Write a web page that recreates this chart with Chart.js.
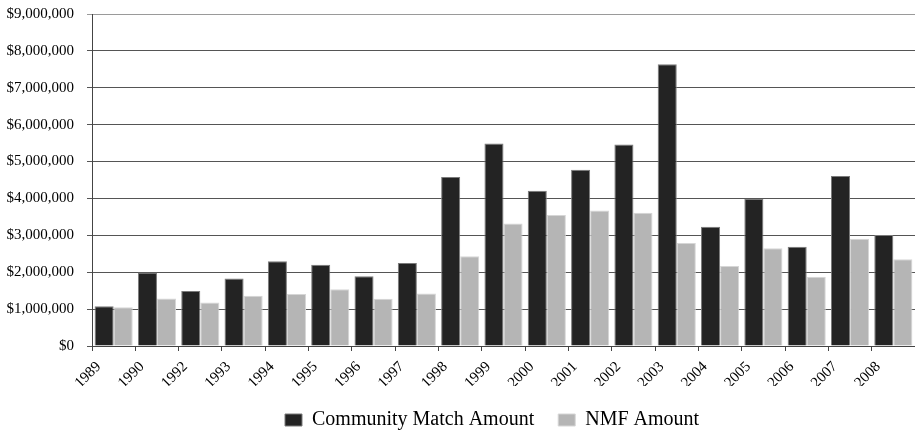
<!DOCTYPE html>
<html>
<head>
<meta charset="utf-8">
<script src="https://cdn.jsdelivr.net/npm/chart.js@4/dist/chart.umd.min.js"></script>
<style>
  html, body { margin: 0; padding: 0; background: #fff; }
  #wrap { width: 915px; height: 431px; }
</style>
</head>
<body>
<div id="wrap"><canvas id="c" width="915" height="431"></canvas></div>
<script>
const years = ['1989','1990','1992','1993','1994','1995','1996','1997','1998','1999','2000','2001','2002','2003','2004','2005','2006','2007','2008'];
const communityMatch = [1080000,1990000,1490000,1830000,2300000,2200000,1890000,2250000,4580000,5490000,4210000,4780000,5460000,7640000,3230000,3990000,2690000,4610000,3010000];
const nmfAmount = [1050000,1290000,1180000,1360000,1410000,1540000,1280000,1420000,2430000,3320000,3550000,3670000,3610000,2790000,2170000,2650000,1880000,2910000,2350000];
const seriesNames = ['Community Match Amount', 'NMF Amount'];
const yMin = 0, yMax = 9000000, yStep = 1000000;

const serif = "'Liberation Serif', 'Times New Roman', serif";

const legendShift = {
  id: 'legendShift',
  afterLayout(chart) {
    const lg = chart.legend;
    const w = lg.right - lg.left;
    lg.left = 261;
    lg.right = 261 + w;
  }
};

new Chart(document.getElementById('c'), {
  type: 'bar',
  data: {
    labels: years,
    datasets: [
      { label: seriesNames[0], data: communityMatch, backgroundColor: '#232323', borderColor: '#7a7a7a', borderWidth: 1,
        categoryPercentage: 0.88, barPercentage: 1.0 },
      { label: seriesNames[1], data: nmfAmount, backgroundColor: '#b5b5b5', borderColor: '#d6d6d6', borderWidth: 1,
        categoryPercentage: 0.88, barPercentage: 1.0 }
    ]
  },
  options: {
    responsive: false,
    devicePixelRatio: 1,
    animation: false,
    layout: { padding: { top: 14, left: 0, right: 0, bottom: -9 } },
    plugins: {
      tooltip: { enabled: false },
      legend: {
        position: 'bottom',
        align: 'start',
        labels: {
          boxWidth: 17, boxHeight: 12, padding: 24, color: '#000',
          font: { family: serif, size: 20 }
        }
      }
    },
    scales: {
      x: {
        offset: true,
        grid: { display: true, drawOnChartArea: false, drawTicks: true, tickLength: 5, color: '#444', offset: true },
        border: { display: true, color: '#444', width: 1 },
        ticks: {
          autoSkip: false, maxRotation: 45, minRotation: 45, labelOffset: -15, padding: 7,
          color: '#000', font: { family: serif, size: 15 }
        },
        afterFit(scale) { scale.height = 40; }
      },
      y: {
        min: yMin, max: yMax,
        grid: {
          tickLength: 5,
          color: (ctx) => (ctx.tick && ctx.tick.value === yMax) ? '#9a9a9a' : '#555'
        },
        border: { display: true, color: '#444', width: 1 },
        ticks: {
          stepSize: yStep, padding: 13, color: '#000',
          font: { family: serif, size: 15 },
          callback: (v) => '$' + Number(v).toLocaleString('en-US')
        },
        afterFit(scale) { scale.width = 92; scale.paddingTop = 7; scale.paddingBottom = 7; }
      }
    }
  },
  plugins: [legendShift]
});
</script>
</body>
</html>
